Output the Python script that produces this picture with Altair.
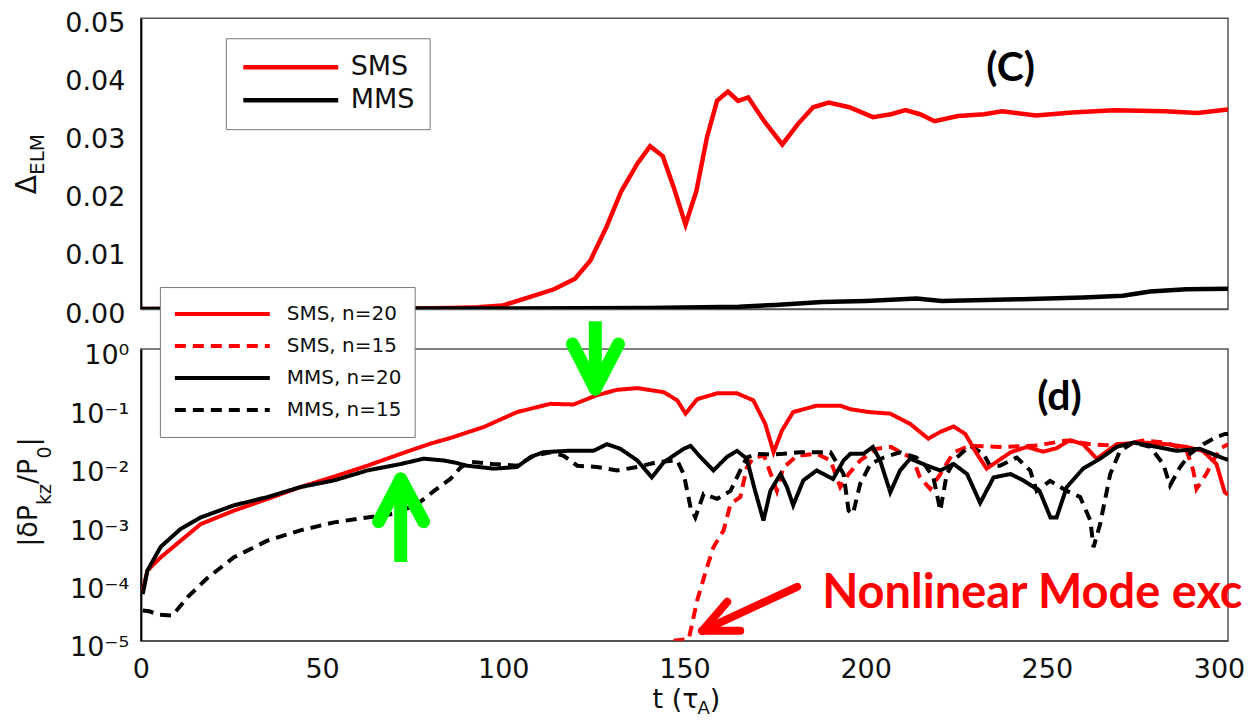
import json
import altair as alt
import pandas as pd

# ---------------- panel (C): Delta_ELM ----------------
elm_sms_t = [0, 50, 75, 85.5, 93, 99.8, 107, 114, 119.8, 124, 128.4, 132.6, 137, 140.5, 144, 147,
             150.3, 153.3, 156.2, 159, 162, 164.8, 167.6, 172, 177, 181.3, 185.5, 189.8, 195.5, 202,
             207, 211, 215, 219, 225.5, 232.7, 237.7, 247, 257, 268.5, 282.8, 291.5, 300]
elm_sms_v = [0, 0, 0.0001, 0.0002, 0.0003, 0.0006, 0.002, 0.0034, 0.0052, 0.0083, 0.014, 0.0203,
             0.025, 0.028, 0.0263, 0.021, 0.0145, 0.0203, 0.0295, 0.0358, 0.0374, 0.0358, 0.0364,
             0.0323, 0.0283, 0.0318, 0.0347, 0.0355, 0.0347, 0.033, 0.0335, 0.0342, 0.0335, 0.0323,
             0.0332, 0.0335, 0.034, 0.0333, 0.0338, 0.0342, 0.034, 0.0337, 0.0343]
elm_mms_t = [0, 100, 140, 165, 175, 188, 200, 214, 221, 243, 260, 271, 278.5, 288.5, 300]
elm_mms_v = [0, 0.0001, 0.0002, 0.0004, 0.0007, 0.0012, 0.0014, 0.0018, 0.0014, 0.0017, 0.002,
             0.0023, 0.003, 0.0034, 0.0035]

# ---------------- panel (d): |dP_kz/P0| ----------------
sms20_t = [0.5, 1.8, 5.5, 11, 16.5, 25.7, 34.9, 44, 53.3, 62.5, 71.7, 80, 85.5, 94.6, 103.8, 113,
           119.4, 125.4, 131.4, 137, 144.3, 148, 150.3, 153.5, 159, 164.5, 169, 172.3, 174.6, 176.9,
           180, 186.5, 193, 195.8, 201, 206.8, 212.3, 217.3, 220.6, 224.3, 227.5, 230.7, 233.4, 236,
           240, 244.5, 249, 252.7, 256.4, 260, 263.8, 269.3, 276.5, 283, 288.6, 293, 296.8, 299.1, 300]
sms20_v = [7.2e-5, 1.6e-4, 2.7e-4, 5.2e-4, 1.0e-3, 1.7e-3, 2.7e-3, 4.3e-3, 6.5e-3, 1.0e-2, 1.6e-2,
           2.4e-2, 3.0e-2, 4.6e-2, 8.3e-2, 0.115, 0.112, 0.158, 0.20, 0.214, 0.182, 0.132, 0.078,
           0.138, 0.174, 0.174, 0.132, 0.052, 0.017, 0.040, 0.083, 0.107, 0.107, 0.093, 0.083, 0.078,
           0.052, 0.029, 0.038, 0.047, 0.035, 0.016, 0.0089, 0.0115, 0.017, 0.021, 0.0174, 0.020,
           0.0275, 0.0234, 0.0132, 0.0234, 0.025, 0.0234, 0.021, 0.018, 0.0107, 0.0035, 0.0032]

sms15_t = [147, 151.2, 153.5, 156.2, 158, 160.8, 162.7, 165.4, 167.2, 169, 172, 175.5, 177.3, 181,
           186.5, 190.3, 193, 195.3, 198.5, 203, 207, 213, 215, 217.8, 220.6, 224.3, 228.8, 237,
           246.3, 255.5, 262, 269.3, 276.6, 283, 288.6, 290.4, 291.3, 294, 295.9, 298, 300]
sms15_v = [1.0e-5, 1.07e-5, 4.9e-5, 1.8e-4, 4.0e-4, 7.8e-4, 2.2e-3, 2.9e-3, 9.3e-3, 0.0138, 0.0148,
           0.0037, 0.0093, 0.0148, 0.016, 0.0123, 0.0043, 0.0072, 0.0123, 0.0195, 0.021, 0.0132,
           0.0063, 0.004, 0.0072, 0.017, 0.0219, 0.021, 0.0219, 0.027, 0.0234, 0.0219, 0.027, 0.025,
           0.018, 0.0083, 0.004, 0.0072, 0.0123, 0.02, 0.0234]

mms20_t = [0.5, 1.8, 5.5, 11, 16.5, 25.7, 34.9, 44, 53.3, 62.5, 71.7, 78, 83.6, 87, 90, 97.4, 103.8,
           107.5, 111, 117.6, 124.9, 128.6, 132.3, 137, 141, 144.3, 149.8, 151.7, 154.4, 158, 161.7,
           164.5, 167.2, 169.5, 171.8, 173.7, 176.5, 178.3, 180, 182.8, 186.5, 191, 193.9, 195.8,
           199.4, 202, 204, 206.8, 209.5, 212.3, 217, 220.6, 224.3, 228, 231.6, 235.3, 240, 243.5,
           248, 251, 252.7, 255.5, 260, 264.7, 269.3, 273.9, 280.3, 285.8, 292.2, 299, 300]
mms20_v = [6.3e-5, 1.6e-4, 4.1e-4, 8.3e-4, 1.3e-3, 2.1e-3, 2.9e-3, 4.3e-3, 5.6e-3, 8.3e-3, 0.0107,
           0.0132, 0.0123, 0.0112, 0.010, 0.0089, 0.0095, 0.0141, 0.017, 0.018, 0.018, 0.0234,
           0.0195, 0.0123, 0.0063, 0.0115, 0.0195, 0.0219, 0.0141, 0.0083, 0.0141, 0.018, 0.0132,
           0.0037, 0.00115, 0.0037, 0.0072, 0.0043, 0.0021, 0.0056, 0.0083, 0.0059, 0.0123, 0.016,
           0.016, 0.021, 0.0123, 0.0035, 0.0083, 0.0132, 0.010, 0.0083, 0.0107, 0.0072, 0.0023,
           0.0063, 0.0072, 0.0056, 0.0037, 0.0013, 0.0013, 0.0043, 0.0089, 0.0132, 0.021, 0.025,
           0.021, 0.018, 0.0195, 0.0132, 0.0126]

mms15_t = [0.5, 2.3, 5, 8.7, 12.9, 18.4, 25.7, 34.9, 44, 53.3, 62.5, 69.8, 76.3, 80.9, 85.5, 88.2, 91,
           97, 103.8, 108.4, 113, 116.7, 120.4, 125.9, 131.4, 137, 142.4, 148, 149.8, 151.7, 153,
           155.3, 159, 162.7, 165.4, 167.2, 170, 173.7, 177.3, 182, 186.5, 190.3, 193.9, 195.3,
           196.5, 198.5, 201.3, 205, 209.5, 214, 216.5, 218.7, 220.6, 222.4, 225.1, 228.8, 232.5,
           234.3, 237, 241.7, 245.4, 247.2, 250.9, 255.5, 259.2, 262, 262.9, 264.7, 267.5, 270.2,
           273.9, 278.5, 282.1, 284, 286.7, 289.5, 293.2, 296.8, 299.2, 300]
mms15_v = [3.3e-5, 3.2e-5, 2.8e-5, 2.7e-5, 5.6e-5, 1.2e-4, 2.7e-4, 5.2e-4, 7.8e-4, 1.07e-3, 1.3e-3,
           1.5e-3, 2.2e-3, 3.7e-3, 6.0e-3, 9.3e-3, 0.0117, 0.0107, 0.010, 0.0148, 0.017, 0.0148,
           0.010, 0.0095, 0.0083, 0.0095, 0.0115, 0.0123, 0.0072, 0.0019, 0.0013, 0.0033, 0.0027,
           0.0037, 0.0083, 0.0138, 0.016, 0.0155, 0.016, 0.017, 0.017, 0.017, 0.0072, 0.0017,
           0.0015, 0.0049, 0.0107, 0.0138, 0.017, 0.0138, 0.010, 0.0063, 0.0017, 0.0072, 0.0138,
           0.0219, 0.016, 0.010, 0.010, 0.0138, 0.0083, 0.0037, 0.0055, 0.0037, 0.0029, 0.00115,
           0.0004, 0.001, 0.0072, 0.018, 0.025, 0.021, 0.0107, 0.0046, 0.0093, 0.016, 0.0234,
           0.031, 0.035, 0.035]

top_series = ["SMS", "MMS"]
bottom_series = ["SMS, n=20", "SMS, n=15", "MMS, n=20", "MMS, n=15"]
top_ticks = [0, 0.01, 0.02, 0.03, 0.04, 0.05]
log_ticks = [1, 0.1, 0.01, 0.001, 0.0001, 0.00001]
log_tick_labels = ["10\u2070", "10\u207b\u00b9", "10\u207b\u00b2", "10\u207b\u00b3", "10\u207b\u2074", "10\u207b\u2075"]
x_ticks = [0, 50, 100, 150, 200, 250, 300]

# annotation arrows (data coordinates: t, value)
green_down = {"t": [125.4, 125.4, 125.4], "y": [3.0, 0.206, 0.206],
              "t2": [125.4, 119.1, 131.8], "y2": [0.206, 1.22, 1.22]}
green_up = {"t": [71.7, 71.7, 71.7], "y": [2.24e-4, 5.94e-3, 5.94e-3],
            "t2": [71.7, 65.6, 78.0], "y2": [5.94e-3, 1.1e-3, 1.1e-3]}
red_arrow = {"t": [154.9, 154.9, 154.9], "y": [1.48e-5, 1.48e-5, 1.48e-5],
             "t2": [181.1, 161.8, 165.4], "y2": [8.4e-5, 4.65e-5, 1.48e-5]}

# ---------------- build frames ----------------
def frame(t, v, name):
    assert len(t) == len(v), name
    return pd.DataFrame({"t": t, "v": v, "series": name})

top_df = {"SMS": frame(elm_sms_t, elm_sms_v, "SMS"), "MMS": frame(elm_mms_t, elm_mms_v, "MMS")}
bot_df = {
    "SMS, n=20": frame(sms20_t, sms20_v, "SMS, n=20"),
    "SMS, n=15": frame(sms15_t, sms15_v, "SMS, n=15"),
    "MMS, n=20": frame(mms20_t, mms20_v, "MMS, n=20"),
    "MMS, n=15": frame(mms15_t, mms15_v, "MMS, n=15"),
}

W, H1, H2 = 1088, 291, 292
FONT = "DejaVu Sans"
ANN = "Lato"
one = pd.DataFrame({"k": [0]})
frame_view = alt.ViewBackground(stroke="#555", strokeWidth=1.5)

xs = alt.Scale(domain=[0, 300], nice=False, zero=False)
ys_top = alt.Scale(domain=[0, 0.05], nice=False)
ys_bot = alt.Scale(type="log", domain=[1e-5, 1], nice=False)


def piece(txt, x, y, size, angle=270, align="left", baseline="alphabetic", font=FONT,
          weight="normal", color="#111"):
    return alt.Chart(one).mark_text(text=txt, angle=angle, align=align, baseline=baseline,
                                    fontSize=size, font=font, fontWeight=weight,
                                    color=color).encode(x=alt.value(x), y=alt.value(y))


# ----- top panel -----
top_color = alt.Color(
    "series:N",
    scale=alt.Scale(domain=top_series, range=["#ff0000", "#000000"]),
    legend=alt.Legend(orient="none", legendX=85, legendY=20, title=None, symbolType="stroke",
                      symbolSize=9025, symbolStrokeWidth=4.5, labelFontSize=27, labelFont=FONT,
                      labelColor="#111", labelOffset=10, padding=15, rowPadding=5, clipHeight=28,
                      fillColor="white", strokeColor="#777", labelLimit=400),
)
top_y_axis = alt.Axis(values=top_ticks, format=".2f", labelFontSize=27, labelFont=FONT,
                      labelColor="#111", labelPadding=16, tickSize=0, title=None, grid=False,
                      domainColor="#000", domainWidth=2, labelOffset=5, labelFlush=False)
top_x_axis = alt.Axis(values=x_ticks, labels=False, ticks=False, title=None, grid=False,
                      domainColor="#555", domainWidth=1.5)

top_layers = []
for s in top_series:
    top_layers.append(
        alt.Chart(top_df[s]).mark_line(strokeWidth=4.5, clip=True).encode(
            x=alt.X("t:Q", scale=xs, axis=top_x_axis),
            y=alt.Y("v:Q", scale=ys_top, axis=top_y_axis),
            color=top_color,
        )
    )
top_text = alt.Chart(pd.DataFrame({"t": [240.0], "v": [0.0412], "label": ["(C)"]})).mark_text(
    font=ANN, fontWeight="bold", fontSize=41, color="#000", align="center", baseline="middle"
).encode(x=alt.X("t:Q", scale=xs), y=alt.Y("v:Q", scale=ys_top), text="label:N")

top = alt.layer(
    *top_layers, top_text,
    piece("\u0394", -105, 176, 28),
    piece("ELM", -97, 156.8, 20),
).properties(width=W, height=H1, view=frame_view)

# ----- bottom panel -----
legend_kw = dict(orient="none", legendX=19, legendY=-62, title=None, symbolType="stroke",
                 symbolSize=9025, symbolStrokeWidth=4, labelFontSize=20, labelFont=FONT,
                 labelColor="#111", labelOffset=15, padding=13, rowPadding=4, clipHeight=28,
                 fillColor="white", strokeColor="#777", labelLimit=400)
bot_color = alt.Color(
    "series:N",
    scale=alt.Scale(domain=bottom_series, range=["#ff0000", "#ff0000", "#000000", "#000000"]),
    legend=alt.Legend(**legend_kw),
)
bot_dash = alt.StrokeDash(
    "series:N",
    scale=alt.Scale(domain=bottom_series, range=[[1, 0], [11, 7], [1, 0], [11, 7]]),
    legend=alt.Legend(**legend_kw),
)
label_expr = json.dumps(log_tick_labels, ensure_ascii=False) + "[-round(log(datum.value)/LN10)]"
bot_y_axis = alt.Axis(values=log_ticks, labelExpr=label_expr, labelFontSize=27, labelFont=FONT,
                      labelColor="#111", labelPadding=12, tickSize=0, title=None, grid=False,
                      domainColor="#000", domainWidth=2, labelOffset=7, labelFlush=False)
bot_x_axis = alt.Axis(values=x_ticks, format="d", labelFontSize=27, labelFont=FONT,
                      labelColor="#111", labelPadding=16, tickSize=0, title=None, grid=False,
                      domainColor="#555", domainWidth=1.5, labelFlush=False,
                      labelOffset={"condition": {"test": "datum.value == 300", "value": -9}, "value": 0})

bot_layers = []
for s in ["SMS, n=15", "MMS, n=15", "SMS, n=20", "MMS, n=20"]:
    bot_layers.append(
        alt.Chart(bot_df[s]).mark_line(strokeWidth=4, clip=True).encode(
            x=alt.X("t:Q", scale=xs, axis=bot_x_axis),
            y=alt.Y("v:Q", scale=ys_bot, axis=bot_y_axis),
            color=bot_color,
            strokeDash=bot_dash,
        )
    )


def arrow(d, color, width, cap):
    return alt.Chart(pd.DataFrame(d)).mark_rule(color=color, strokeWidth=width, strokeCap=cap).encode(
        x=alt.X("t:Q", scale=xs), x2="t2:Q",
        y=alt.Y("y:Q", scale=ys_bot), y2="y2:Q",
    )


def subset(d, idx):
    return {k: [v[i] for i in idx] for k, v in d.items()}


arrows = [
    arrow(subset(green_down, [0]), "#00ff00", 13, "butt"),
    arrow(subset(green_down, [1, 2]), "#00ff00", 13, "round"),
    arrow(subset(green_up, [0]), "#00ff00", 13, "butt"),
    arrow(subset(green_up, [1, 2]), "#00ff00", 13, "round"),
    arrow(red_arrow, "#ff0000", 8, "round"),
]

d_text = alt.Chart(pd.DataFrame({"t": [253.5], "v": [0.145], "label": ["(d)"]})).mark_text(
    font=ANN, fontWeight="bold", fontSize=41, color="#000", align="center", baseline="middle"
).encode(x=alt.X("t:Q", scale=xs), y=alt.Y("v:Q", scale=ys_bot), text="label:N")
nl_text = alt.Chart(pd.DataFrame({"t": [188.0], "v": [3.67e-5], "label": ["Nonlinear Mode exc"]})).mark_text(
    font=ANN, fontWeight="bold", fontSize=47, color="#ff0000", align="left", baseline="alphabetic"
).encode(x=alt.X("t:Q", scale=xs), y=alt.Y("v:Q", scale=ys_bot), text="label:N")

bottom = alt.layer(
    *bot_layers, *arrows, d_text, nl_text,
    piece("|\u03b4P", -104, 198, 27),
    piece("kz", -90, 156.1, 19),
    piece("/P", -104, 135.1, 27),
    piece("0", -90, 109.7, 19),
    piece("|", -104, 97.6, 27),
    piece("t (\u03c4", 512, 359, 27, angle=0),
    piece("A", 557, 365, 18, angle=0),
    piece(")", 569.3, 359, 27, angle=0),
).properties(width=W, height=H2, view=frame_view)

chart = alt.vconcat(top, bottom, spacing=40, bounds="flush").resolve_scale(
    color="independent", strokeDash="independent"
).resolve_legend(color="independent", strokeDash="independent").properties(
    padding={"left": 5, "top": 0, "right": 0, "bottom": 0}
).configure_view(stroke="#555", strokeWidth=1.5).configure(background="white")

chart.save("out.html", embed_options={"renderer": "svg", "actions": False})
